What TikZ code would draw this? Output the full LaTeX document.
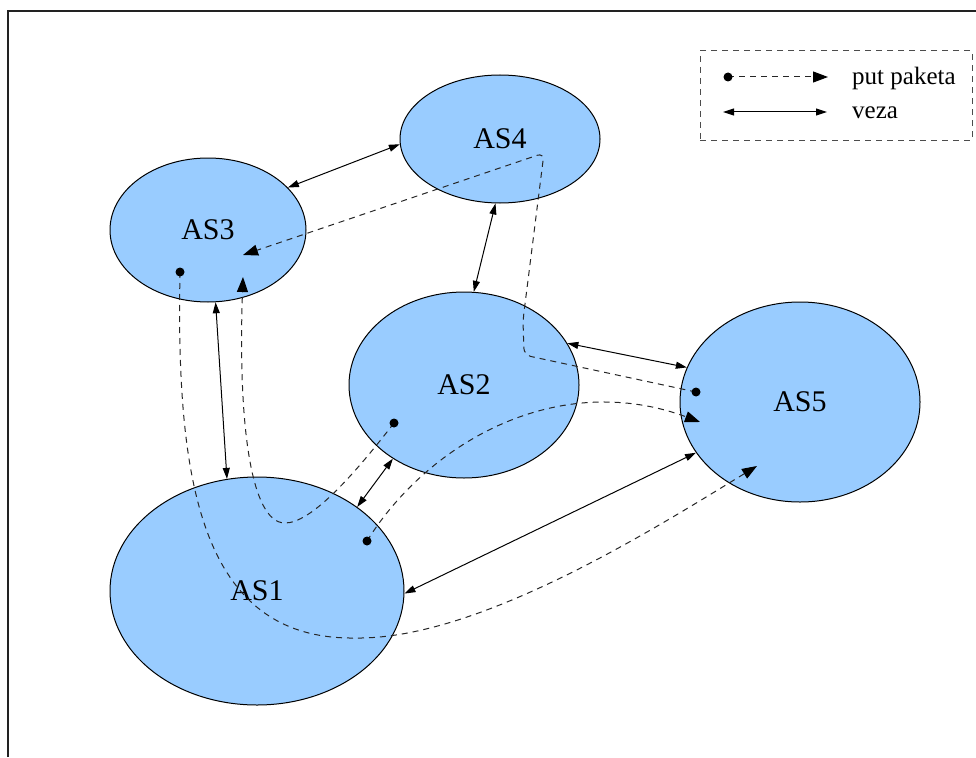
\documentclass[tikz,border=0pt]{standalone}
\usepackage{fontspec}
\setmainfont{Liberation Serif}
\usetikzlibrary{arrows.meta,shapes.geometric}
\definecolor{asblue}{HTML}{99CCFF}
\definecolor{framegray}{HTML}{222222}
\begin{document}
\begin{tikzpicture}[x=1pt,y=-1pt,
  asnode/.style={ellipse, draw=black, line width=1pt, fill=asblue, inner sep=0pt,
    font=\fontsize{30}{36}\selectfont, text=black},
  link/.style={draw=black, line width=1pt,
    {Triangle[length=11pt,width=7pt]}-{Triangle[length=11pt,width=7pt]}},
  route/.style={draw=black!85, line width=1pt, dash pattern=on 6pt off 5pt,
    -{Triangle[length=15pt,width=11pt,color=black]}},
  dotmark/.style={circle, fill=black, inner sep=0pt, minimum size=9pt},
  legtext/.style={anchor=base west, inner sep=0pt, font=\fontsize{25}{30}\selectfont, text=black}
]
\useasboundingbox (0,0) rectangle (976,757);
% frame
\draw[framegray, line width=1.5pt] (8,757) -- (8,11) -- (976,11);

% AS nodes
\node[asnode, minimum width=200pt, minimum height=128pt] (AS4) at (500,139) {AS4};
\node[asnode, minimum width=196pt, minimum height=144pt] (AS3) at (208,230) {AS3};
\node[asnode, minimum width=230pt, minimum height=186pt] (AS2) at (464,385) {AS2};
\node[asnode, minimum width=240pt, minimum height=200pt] (AS5) at (800,402) {AS5};
\node[asnode, minimum width=294pt, minimum height=228pt] (AS1) at (257,591) {AS1};

% links
\draw[link] (AS3.28) -- (AS4.183);
\draw[link] (AS4.266) -- (AS2.84);
\draw[link] (AS3.276) -- (AS1.105);
\draw[link] (AS2.226) -- (AS1.40);
\draw[link] (AS2.22) -- (AS5.163);
\draw[link] (AS1.359) -- (AS5.206);

% packet routes
\coordinate (r1s) at (180,272);
\coordinate (r1m) at (355,638);
\coordinate (r1e) at (757,466);
\draw[route] (r1s) .. controls (176,480) and (200,640) .. (r1m)
  .. controls (480,640) and (660,525) .. (r1e);

\coordinate (r2s) at (367,541);
\coordinate (r2e) at (700,422);
\draw[route] (r2s) .. controls (430,440) and (560,370) .. (r2e);

\coordinate (r3s) at (394,423);
\coordinate (r3m) at (285,523);
\coordinate (r3e) at (243,277);
\draw[route] (r3s) .. controls (350,480) and (310,523) .. (r3m)
  .. controls (250,523) and (238,420) .. (r3e);

\coordinate (r4s) at (696,392);
\coordinate (r4e) at (243,255);
\draw[route, rounded corners=7pt] (r4s) -- (524,355) -- (523,320) -- (544,153) -- (r4e);

\node[dotmark] (d1) at (r1s) {};
\node[dotmark] (d2) at (r2s) {};
\node[dotmark] (d3) at (r3s) {};
\node[dotmark] (d4) at (r4s) {};

% legend
\node[draw=black!70, line width=1pt, dash pattern=on 6pt off 5pt,
  minimum width=272pt, minimum height=89pt, inner sep=0pt] (legend) at (836,95.5) {};
\coordinate (l1s) at (728,77);
\coordinate (l1e) at (828,77);
\draw[route] (l1s) -- (l1e);
\node[dotmark] (ld) at (l1s) {};
\coordinate (l2s) at (723,112);
\coordinate (l2e) at (827,112);
\draw[link] (l2s) -- (l2e);
\node[legtext] (t1) at (852,85) {put paketa};
\node[legtext] (t2) at (852,118) {veza};
\end{tikzpicture}
\end{document}
